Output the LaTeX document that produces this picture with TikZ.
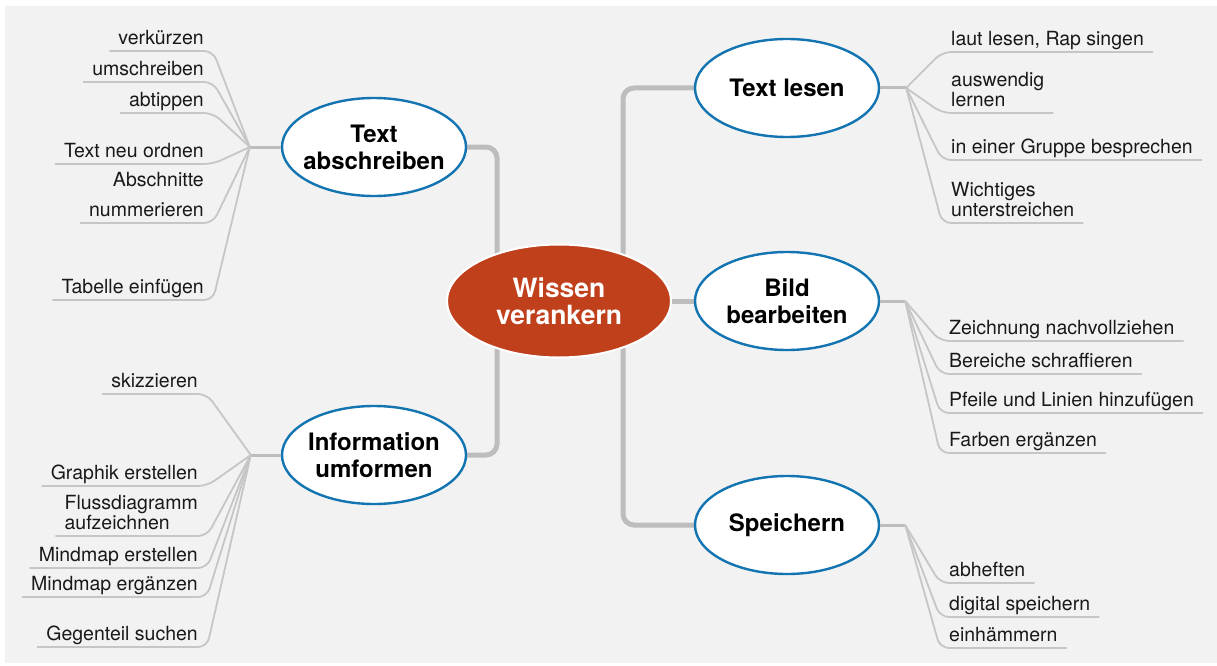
\documentclass[tikz,border=0pt]{standalone}
\usepackage{fontspec}
\setmainfont{TeX Gyre Heros}
\usetikzlibrary{shapes.geometric,backgrounds}

\definecolor{bggray}{HTML}{F2F2F2}
\definecolor{branchgray}{HTML}{BDBDBD}
\definecolor{twiggray}{HTML}{C6C6C6}
\definecolor{topicblue}{HTML}{1274B1}
\definecolor{corered}{HTML}{C1401C}

\begin{document}
\begin{tikzpicture}[
    x=1pt,
    y=-1pt,
    core/.style={
      ellipse,
      fill=corered,
      draw=white,
      line width=2pt,
      minimum width=224pt,
      minimum height=113pt,
      inner sep=0pt,
      align=center,
      text=white,
      font=\bfseries\fontsize{26.5}{27}\selectfont,
    },
    topic/.style={
      ellipse,
      fill=white,
      draw=topicblue,
      line width=2.4pt,
      minimum width=184pt,
      minimum height=98pt,
      inner xsep=-8pt,
      inner ysep=0pt,
      align=center,
      font=\bfseries\fontsize{24}{27}\selectfont,
    },
    branch/.style={
      line width=5pt,
      color=branchgray,
      rounded corners=11pt,
    },
    stub/.style={
      line width=3pt,
      color=branchgray,
    },
    twig/.style={
      line width=1.8pt,
      color=twiggray,
      rounded corners=9pt,
    },
    leaf/.style={
      inner xsep=9pt,
      inner ysep=6pt,
      text depth=0pt,
      text=black!90,
      font=\fontsize{19.5}{20}\selectfont,
    },
    leafleft/.style={
      leaf,
      anchor=south east,
      align=right,
    },
    leafright/.style={
      leaf,
      anchor=south west,
      align=left,
    },
  ]
    \newcommand\twigleft[6][]{%
      \node[leafleft,#1] (#2) at (#4,#5) {#6};
      \draw[twig] (#3) -- (#2.south east) -- (#2.south west);
    }
    \newcommand\twigright[6][]{%
      \node[leafright,#1] (#2) at (#4,#5) {#6};
      \draw[twig] (#3) -- (#2.south west) -- (#2.south east);
    }

    \useasboundingbox (0,0) rectangle (1217,666);

    \node[core] (wissen) at (559,301) {Wissen\\verankern};

    \node[topic] (tab) at (374,147) {Text\\abschreiben};
    \node[topic] (info) at (374,455) {Information\\umformen};
    \node[topic] (lesen) at (787,88) {Text lesen};
    \node[topic] (bild) at (787,301) {Bild\\bearbeiten};
    \node[topic] (speich) at (787,525) {Speichern};

    \coordinate (ltrunk) at (497,0);
    \coordinate (rtrunk) at (623,0);

    \begin{scope}[on background layer]
      \fill[white] (0,0) rectangle (1217,666);
      \fill[bggray] (5,6) rectangle (1217,663);
      \draw[branch] (tab.east) -- (tab.east -| ltrunk)
        -- (info.east -| ltrunk) -- (info.east);
      \draw[branch] (lesen.west) -- (lesen.west -| rtrunk)
        -- (speich.west -| rtrunk) -- (speich.west);
      \draw[branch] (wissen.east) -- (bild.west);
    \end{scope}

    % hubs
    \coordinate (hubtab) at ([xshift=-31pt]tab.west);
    \coordinate (hubinfo) at ([xshift=-30pt]info.west);
    \coordinate (hublesen) at ([xshift=26pt]lesen.east);
    \coordinate (hubbild) at ([xshift=25pt]bild.east);
    \coordinate (hubspeich) at ([xshift=25pt]speich.east);

    \draw[stub] (tab.west) -- (hubtab);
    \draw[stub] (info.west) -- (hubinfo);
    \draw[stub] (lesen.east) -- (hublesen);
    \draw[stub] (bild.east) -- (hubbild);
    \draw[stub] (speich.east) -- (hubspeich);

    \twigleft{verk}{hubtab}{213}{51}{verkürzen}
    \twigleft{umschr}{hubtab}{213}{82}{umschreiben}
    \twigleft{abtip}{hubtab}{213}{113}{abtippen}
    \twigleft{ordnen}{hubtab}{213}{164}{Text neu ordnen}
    \twigleft{abschn}{hubtab}{213}{223}{Abschnitte\\[10pt]nummerieren}
    \twigleft{tabelle}{hubtab}{213}{300}{Tabelle einfügen}

    \twigleft{skizz}{hubinfo}{207}{394}{skizzieren}
    \twigleft{graphik}{hubinfo}{207}{486}{Graphik erstellen}
    \twigleft[align=left]{fluss}{hubinfo}{207}{536}{Flussdiagramm\\aufzeichnen}
    \twigleft{mmerst}{hubinfo}{207}{568}{Mindmap erstellen}
    \twigleft{mmergz}{hubinfo}{207}{597}{Mindmap ergänzen}
    \twigleft{gegent}{hubinfo}{207}{647}{Gegenteil suchen}

    \twigright{laut}{hublesen}{942}{52}{laut lesen, Rap singen}
    \twigright{ausw}{hublesen}{942}{113}{auswendig\\lernen}
    \twigright{gruppe}{hublesen}{942}{160}{in einer Gruppe besprechen}
    \twigright{wichtig}{hublesen}{942}{223}{Wichtiges\\unterstreichen}

    \twigright{zeichn}{hubbild}{940}{341}{Zeichnung nachvollziehen}
    \twigright{bereich}{hubbild}{940}{374}{Bereiche schraffieren}
    \twigright{pfeile}{hubbild}{940}{413}{Pfeile und Linien hinzufügen}
    \twigright{farben}{hubbild}{940}{453}{Farben ergänzen}

    \twigright{abheft}{hubspeich}{940}{583}{abheften}
    \twigright{digital}{hubspeich}{940}{617}{digital speichern}
    \twigright{einhaem}{hubspeich}{940}{648}{einhämmern}
  \end{tikzpicture}
\end{document}
